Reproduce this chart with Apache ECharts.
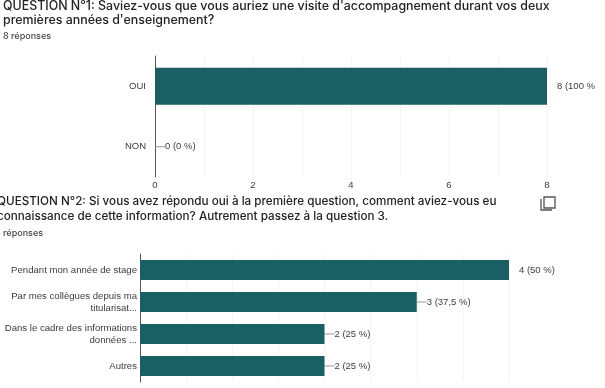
<!DOCTYPE html>
<html>
<head>
<meta charset="utf-8">
<style>
  html, body { margin: 0; padding: 0; background: #fff; overflow: hidden; }
  #chart { width: 605px; height: 388px; filter: blur(0.45px); }
</style>
<script src="https://cdn.jsdelivr.net/npm/echarts@6/dist/echarts.min.js"></script>
</head>
<body>
<div id="chart"></div>
<script>
// Question 1
const q1Categories = ["OUI", "NON"];
const q1Values = [8, 0];
const q1Labels = ["8 (100 %", "0 (0 %)"];
const q1Leaders = [false, true];
// Question 2
const q2Categories = [
  "Pendant mon année de stage",
  "Par mes collègues depuis ma\ntitularisat...",
  "Dans le cadre des informations\ndonnées ...",
  "Autres",
];
const q2Values = [4, 3, 2, 2];
const q2Labels = ["4 (50 %)", "3 (37,5 %)", "2 (25 %)", "2 (25 %)"];
const q2Leaders = [false, true, true, true];

const barColor = "#195f63";
const textColor = "#3c3c3c";
const gridColor = "#f4f4f4";
const titleFont = "Inter, 'Open Sans', sans-serif";
const chartFont = "'Liberation Sans', Arial, sans-serif";

function titleText(x, y, text, size, color) {
  return {
    type: "text",
    x: x,
    y: y,
    style: { text: text, fill: color, font: "500 " + size + "px " + titleFont, textVerticalAlign: "middle" },
  };
}

function makeSeries(index, values, labels, leaders, barWidth) {
  return {
    type: "bar",
    xAxisIndex: index,
    yAxisIndex: index,
    // la ligne de rappel n'existe que sur certaines barres
    data: values.map((v, i) => ({ value: v, labelLine: { show: leaders[i] } })),
    barWidth: barWidth,
    itemStyle: { color: barColor },
    silent: true,
    animation: false,
    label: {
      show: true,
      position: "right",
      distance: 0,
      color: textColor,
      fontFamily: chartFont,
      fontSize: 9.5,
      formatter: (p) => labels[p.dataIndex],
    },
    labelLayout: { dx: 10 },
    labelLine: { show: true, lineStyle: { color: "#999", width: 1 } },
  };
}

const chart = echarts.init(document.getElementById("chart"), null, { renderer: "canvas" });
chart.setOption({
  animation: false,
  backgroundColor: "#fff",
  grid: [
    { left: 155, right: 58, top: 56, height: 121 },
    { left: 140, right: 96, top: 254, height: 128 },
  ],
  xAxis: [
    {
      gridIndex: 0, type: "value", min: 0, max: 8, interval: 1,
      axisLine: { show: false }, axisTick: { show: false },
      axisLabel: {
        color: textColor, fontFamily: chartFont, fontSize: 9.5, margin: 3,
        formatter: (v) => (v % 2 === 0 ? v : ""),
      },
      splitLine: { lineStyle: { color: gridColor, width: 1 } },
    },
    {
      gridIndex: 1, type: "value", min: 0, max: 4, interval: 0.5,
      axisLine: { show: false }, axisTick: { show: false },
      axisLabel: { show: false },
      splitLine: { lineStyle: { color: gridColor, width: 1 } },
    },
  ],
  yAxis: [
    {
      gridIndex: 0, type: "category", inverse: true, data: q1Categories,
      axisLine: { lineStyle: { color: "#555", width: 1 } }, axisTick: { show: false },
      axisLabel: { color: textColor, fontFamily: chartFont, fontSize: 9.5, margin: 9 },
    },
    {
      gridIndex: 1, type: "category", inverse: true, data: q2Categories,
      axisLine: { lineStyle: { color: "#555", width: 1 } }, axisTick: { show: false },
      axisLabel: { color: textColor, fontFamily: chartFont, fontSize: 9.6, margin: 3, lineHeight: 12, interval: 0 },
    },
  ],
  series: [
    makeSeries(0, q1Values, q1Labels, q1Leaders, 37),
    makeSeries(1, q2Values, q2Labels, q2Leaders, 20),
  ],
  graphic: [
    titleText(3, 6, "QUESTION N°1: Saviez-vous que vous auriez une visite d'accompagnement durant vos deux", 12.4, "#222"),
    titleText(3, 20, "premières années d'enseignement?", 12.4, "#222"),
    titleText(3, 36, "8 réponses", 9, "#444"),
    titleText(-3, 201, "QUESTION N°2: Si vous avez répondu oui à la première question, comment aviez-vous eu", 11.7, "#222"),
    titleText(-3, 216, "connaissance de cette information? Autrement passez à la question 3.", 11.7, "#222"),
    titleText(-5, 233, "8 réponses", 9, "#444"),
    // icone de copie
    { type: "rect", shape: { x: 544, y: 197, width: 11, height: 11 }, style: { fill: "none", stroke: "#555", lineWidth: 1.3 } },
    { type: "polyline", shape: { points: [[541, 199], [541, 210], [552, 210]] }, style: { fill: "none", stroke: "#555", lineWidth: 1.3 } },
  ],
});
</script>
</body>
</html>
